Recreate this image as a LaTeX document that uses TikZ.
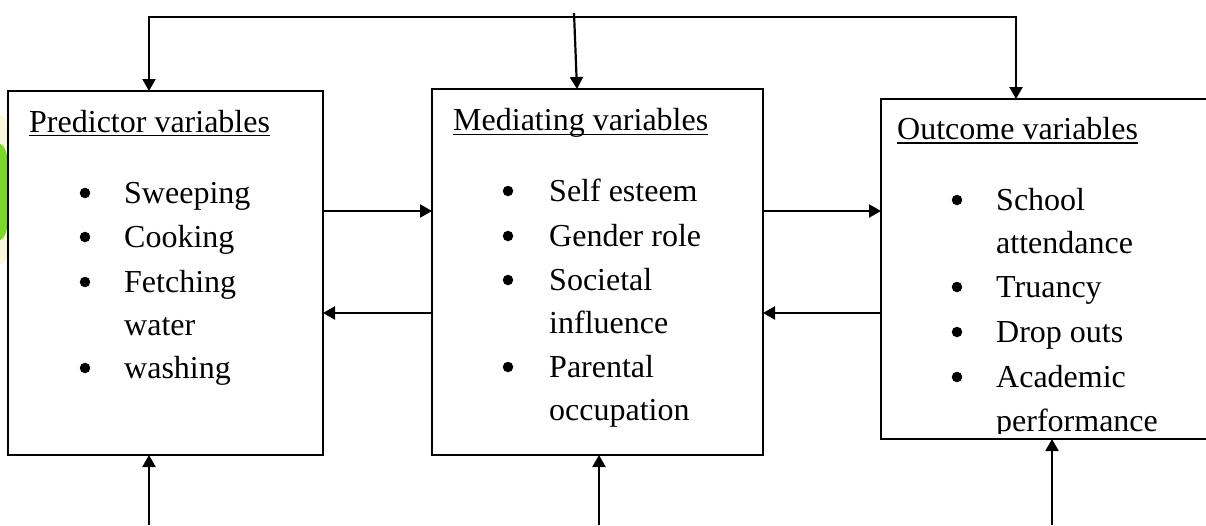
\documentclass[tikz,border=0pt]{standalone}
\usepackage{fontspec}
\setmainfont{Liberation Serif}
\usetikzlibrary{arrows.meta}
\definecolor{blob}{RGB}{125,215,40}
\definecolor{halo}{RGB}{250,248,220}
\begin{document}
\begin{tikzpicture}[x=1pt,y=-1pt,
  box/.style={draw,line width=2.2pt,inner sep=0pt,outer sep=0pt},
  arr/.style={line width=2.2pt,-{Triangle[length=12pt,width=13pt]}},
  darr/.style={line width=2.2pt,{Triangle[length=12pt,width=13pt]}-{Triangle[length=12pt,width=13pt]}},
  txt/.style={anchor=base west,inner sep=0pt,font=\fontsize{32}{38}\selectfont},
  bul/.style={circle,fill,inner sep=0pt,minimum size=10.5pt},
  ul/.style={line width=1.8pt}
]
\useasboundingbox (0,0) rectangle (1206,525);

% watermark fragment at left edge
\begin{scope}
\clip (0,0) rectangle (7,525);
\fill[halo] (0,190) ellipse [x radius=16, y radius=75];
\fill[blob] (0,192) ellipse [x radius=11, y radius=48];
\end{scope}

% boxes
\node[box,minimum width=315pt,minimum height=364pt] (P) at (165.5,273) {};
\node[box,minimum width=331pt,minimum height=366pt] (M) at (597.5,272) {};
\node[box,minimum width=331pt,minimum height=340pt] (O) at (1046.5,269) {};

% predictor text
\node[txt] (pt) at (29,132) {Predictor variables};
\draw[ul] ([yshift=-3.5pt]pt.base west) -- ([yshift=-3.5pt]pt.base east);
\node[bul] (pb1) at (85,193) {};
\node[txt] (p1) at (124,203) {Sweeping};
\node[bul] (pb2) at (85,237) {};
\node[txt] (p2) at (124,247) {Cooking};
\node[bul] (pb3) at (85,282) {};
\node[txt] (p3) at (124,292) {Fetching};
\node[txt] (p4) at (124,335) {water};
\node[bul] (pb4) at (85,368) {};
\node[txt] (p5) at (124,378) {washing};

% mediating text
\node[txt] (mt) at (453,130) {Mediating variables};
\draw[ul] ([yshift=-4.5pt]mt.base west) -- ([yshift=-4.5pt]mt.base east);
\node[bul] (mb1) at (508,191) {};
\node[txt] (m1) at (549,201) {Self esteem};
\node[bul] (mb2) at (508,236) {};
\node[txt] (m2) at (549,246) {Gender role};
\node[bul] (mb3) at (508,280) {};
\node[txt] (m3) at (549,290) {Societal};
\node[txt] (m4) at (549,333) {influence};
\node[bul] (mb4) at (508,367) {};
\node[txt] (m5) at (549,377) {Parental};
\node[txt] (m6) at (549,420) {occupation};

% outcome text
\node[txt] (ot) at (897,139) {Outcome variables};
\draw[ul] ([yshift=-4pt]ot.base west) -- ([yshift=-4pt]ot.base east);
\node[bul] (ob1) at (957,200) {};
\node[txt] (o1) at (996,210) {School};
\node[txt] (o2) at (996,253) {attendance};
\node[bul] (ob2) at (957,287) {};
\node[txt] (o3) at (996,297) {Truancy};
\node[bul] (ob3) at (957,332) {};
\node[txt] (o4) at (996,342) {Drop outs};
\node[bul] (ob4) at (957,377) {};
\node[txt] (o5) at (996,387) {Academic};
\begin{scope}
\clip (885,400) rectangle (1206,433);
\node[txt] (o6) at (996,431) {performance};
\end{scope}

% connector points
\coordinate (tl) at (149,17);
\coordinate (tr) at (1016,17);
\coordinate (tm) at (574,13);
\coordinate (mx) at (577,0);
\coordinate (hf) at (0,211);
\coordinate (hb) at (0,313);
\coordinate (b1) at (149,525);
\coordinate (b2) at (599,525);
\coordinate (b3) at (1052,525);

% top feedback line
\draw[darr,line join=miter] (O.north -| tr) -- (tr) -- (tl) -- (P.north -| tl);
\draw[arr] (tm) -- (M.north -| mx);

% horizontal arrows
\draw[arr] (P.east |- hf) -- (M.west |- hf);
\draw[arr] (M.east |- hf) -- (O.west |- hf);
\draw[arr] (M.west |- hb) -- (P.east |- hb);
\draw[arr] (O.west |- hb) -- (M.east |- hb);

% bottom arrows
\draw[arr] (b1) -- (P.south -| b1);
\draw[arr] (b2) -- (M.south -| b2);
\draw[arr] (b3) -- (O.south -| b3);
\end{tikzpicture}
\end{document}
